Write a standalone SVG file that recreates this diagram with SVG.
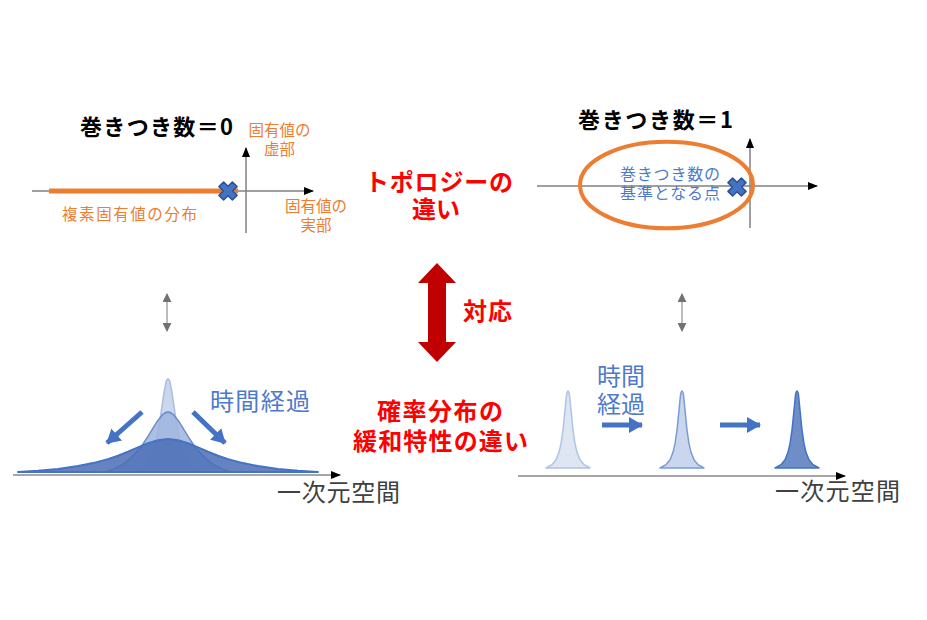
<svg xmlns="http://www.w3.org/2000/svg" xmlns:xlink="http://www.w3.org/1999/xlink" width="927" height="620" viewBox="0 0 927 620">
<style>
text{font-family:"Noto Sans CJK JP","Noto Sans",sans-serif}
.title{font-size:22px;font-weight:bold;fill:#000}
.orange{font-size:15.5px;fill:#ED7D31}
.blue{font-size:16px;fill:#4E7ACB}
.red{font-size:24px;font-weight:bold;fill:#FF0000}
.time{font-size:24px;fill:#4E7ACB}
.space{font-size:24px;fill:#404040}
.axis{stroke:#808080;stroke-width:1.5;fill:none}
.baxis{stroke:#A6A6A6;stroke-width:2;fill:none}
.garrow{stroke:#A6A6A6;stroke-width:1.5;fill:none}
.barrow{stroke:#4472C4;stroke-width:5;fill:none}
.xmark{fill:#4472C4;stroke:#2F528F;stroke-width:1.5;stroke-linejoin:round}
</style>
<defs>
<marker id="ah" markerUnits="userSpaceOnUse" markerWidth="10" markerHeight="10" viewBox="0 0 10 10" refX="9" refY="5" orient="auto">
<path d="M0,1 L10,5 L0,9 Z" fill="#000"/>
</marker>
<marker id="gh" markerUnits="userSpaceOnUse" markerWidth="9" markerHeight="9" viewBox="0 0 10 10" refX="9" refY="5" orient="auto-start-reverse">
<path d="M0,0 L10,5 L0,10 Z" fill="#767171"/>
</marker>
<marker id="bh" markerUnits="userSpaceOnUse" markerWidth="14" markerHeight="16" viewBox="0 0 14 16" refX="13" refY="8" orient="auto">
<path d="M0,0 L14,8 L0,16 Z" fill="#4472C4"/>
</marker>
<path id="xshape" d="M4.38,-9.05 L9.05,-4.38 L4.67,0 L9.05,4.38 L4.38,9.05 L0,4.67 L-4.38,9.05 L-9.05,4.38 L-4.67,0 L-9.05,-4.38 L-4.38,-9.05 L0,-4.67 Z"/>
<path id="peak" d="M-22,0 L-16,-3.4 L-12,-8.3 L-9,-15.7 L-7,-24.3 L-5,-37.9 L-3,-57.7 L-1.5,-73 Q0,-81 1.5,-73 L3,-57.7 L5,-37.9 L7,-24.3 L9,-15.7 L12,-8.3 L16,-3.4 L22,0 Z" stroke-width="1.5" stroke-linejoin="round"/>
</defs>
<rect width="927" height="620" fill="#fff"/>

<g id="node-left-plane">
<text class="title" x="80" y="135" textLength="153" lengthAdjust="spacing">巻きつき数＝0</text>
<line class="axis" x1="246" y1="233" x2="246" y2="148" marker-end="url(#ah)"/>
<line class="axis" x1="32" y1="191" x2="313" y2="191" marker-end="url(#ah)"/>
<line x1="49" y1="191" x2="238" y2="191" stroke="#ED7D31" stroke-width="5"/>
<use href="#xshape" xlink:href="#xshape" class="xmark" transform="translate(228,191)"/>
<text class="orange" x="279.5" y="136" text-anchor="middle">固有値の</text>
<text class="orange" x="279.5" y="155" text-anchor="middle">虚部</text>
<text class="orange" x="62" y="220" textLength="135" lengthAdjust="spacing">複素固有値の分布</text>
<text class="orange" x="316" y="212" text-anchor="middle">固有値の</text>
<text class="orange" x="316" y="231" text-anchor="middle">実部</text>
</g>

<g id="node-right-plane">
<text class="title" x="578" y="128" textLength="155" lengthAdjust="spacing">巻きつき数＝1</text>
<line class="axis" x1="750" y1="228" x2="750" y2="139" marker-end="url(#ah)"/>
<line class="axis" x1="537" y1="186" x2="817" y2="186" marker-end="url(#ah)"/>
<ellipse cx="666.5" cy="185" rx="86.5" ry="43.3" fill="none" stroke="#ED7D31" stroke-width="4"/>
<text class="blue" x="620" y="180" textLength="100" lengthAdjust="spacing">巻きつき数の</text>
<text class="blue" x="620" y="199" textLength="100" lengthAdjust="spacing">基準となる点</text>
<use href="#xshape" xlink:href="#xshape" class="xmark" transform="translate(737,187)"/>
</g>

<g id="node-topology-label">
<text class="red" x="365" y="191" textLength="148" lengthAdjust="spacing">トポロジーの</text>
<text class="red" x="412" y="218" textLength="48" lengthAdjust="spacing">違い</text>
</g>

<g id="node-correspondence">
<text class="red" x="463" y="320" textLength="49" lengthAdjust="spacing">対応</text>
</g>

<g id="node-relax-label">
<text class="red" x="377" y="420" textLength="126" lengthAdjust="spacing">確率分布の</text>
<text class="red" x="353" y="450" textLength="175" lengthAdjust="spacing">緩和特性の違い</text>
</g>

<g id="node-left-dist">
<path d="M140,472 L144,468.3 L148,462.8 L152,454.2 L155,444.6 L158,431 L160,419.4 L162,406.1 L164,392.6 L166,382.1 Q168,376 170,382.1 L172,392.6 L174,406.1 L176,419.4 L178,431 L181,444.6 L184,454.2 L188,462.8 L192,468.3 L196,472 Z" fill="#CAD7EE" stroke="#A9BEE3" stroke-width="1.5" stroke-linejoin="round"/>
<path d="M106,472 L114,468.9 L122,464.7 L130,458.8 L138,450.6 L143,444 L148,436.4 L153,428.1 L158,420.2 L163,414.2 Q168,410 173,414.2 L178,420.2 L183,428.1 L188,436.4 L193,444 L198,450.6 L206,458.8 L214,464.7 L222,468.9 L230,472 Z" fill="#9FB5DE" fill-opacity="0.85" stroke="#6A8DCB" stroke-width="1.5" stroke-linejoin="round"/>
<path d="M18,472 L38,470.7 L58,468.9 L78,466.1 L93,463.1 L108,459.1 L118,455.7 L128,451.7 L138,447.4 L148,443.3 L158,440.2 L168,439 L178,440.2 L188,443.3 L198,447.4 L208,451.7 L218,455.7 L228,459.1 L243,463.1 L258,466.1 L278,468.9 L298,470.7 L318,472 Z" fill="#4A6DB5" fill-opacity="0.85" stroke="#4472C4" stroke-width="2" stroke-linejoin="round"/>
<line class="baxis" x1="13" y1="475" x2="340" y2="475" marker-end="url(#ah)"/>
<text class="time" x="210" y="410" textLength="100" lengthAdjust="spacing">時間経過</text>
<text class="space" x="277" y="501" textLength="123" lengthAdjust="spacing">一次元空間</text>
</g>

<g id="node-right-dist">
<use href="#peak" xlink:href="#peak" transform="translate(568,468)" fill="#DEE6F4" stroke="#AFC3E5"/>
<use href="#peak" xlink:href="#peak" transform="translate(682,468)" fill="#C9D6EE" stroke="#7B9BD6"/>
<use href="#peak" xlink:href="#peak" transform="translate(797,468)" fill="#6F8DC6" stroke="#4472C4"/>
<line class="baxis" x1="518" y1="476" x2="845" y2="476" marker-end="url(#ah)"/>
<text class="time" x="597" y="385" textLength="48" lengthAdjust="spacing">時間</text>
<text class="time" x="597" y="413" textLength="48" lengthAdjust="spacing">経過</text>
<text class="space" x="775" y="500" textLength="125" lengthAdjust="spacing">一次元空間</text>
</g>

<g id="connectors">
<path d="M437,263 L456,283 L446,283 L446,342 L456,342 L437,362 L418,342 L428,342 L428,283 L418,283 Z" fill="#C00000"/>
<line class="garrow" x1="167" y1="294" x2="167" y2="331" marker-start="url(#gh)" marker-end="url(#gh)"/>
<line class="garrow" x1="682" y1="294" x2="682" y2="331" marker-start="url(#gh)" marker-end="url(#gh)"/>
<line class="barrow" x1="142" y1="412" x2="107" y2="443" marker-end="url(#bh)"/>
<line class="barrow" x1="193" y1="412" x2="225" y2="443" marker-end="url(#bh)"/>
<line class="barrow" x1="602" y1="425" x2="642" y2="425" marker-end="url(#bh)"/>
<line class="barrow" x1="720" y1="425" x2="760" y2="425" marker-end="url(#bh)"/>
</g>
</svg>
